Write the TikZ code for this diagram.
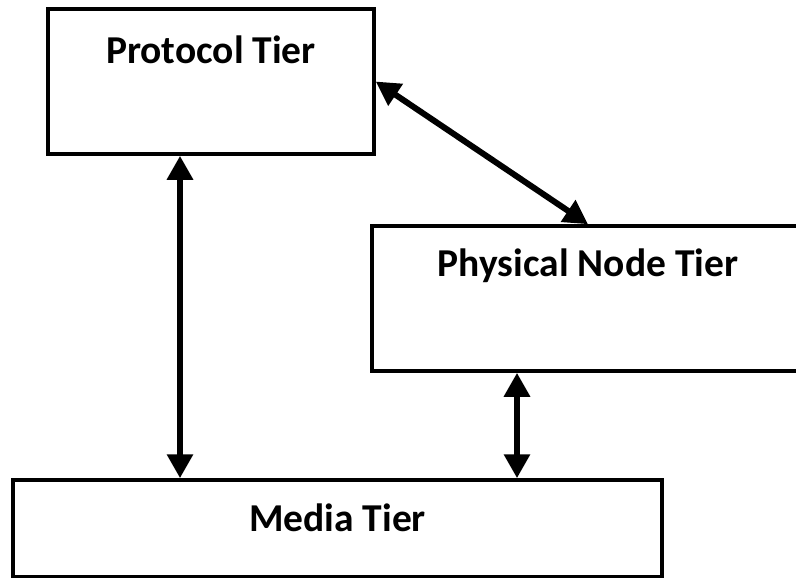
\documentclass[tikz,border=0pt]{standalone}
\usepackage{fontspec}
\setmainfont{Carlito}
\usetikzlibrary{arrows.meta,positioning}

\tikzset{
	tier/.style={draw, line width=3.5pt, minimum width=#1, minimum height=145pt, inner sep=0pt},
	tiername/.style={anchor=base, font=\fontsize{39.5}{44}\selectfont\bfseries},
	link/.style={line width=6pt, {Triangle[length=24pt,width=25pt]}-{Triangle[length=24pt,width=25pt]}}
}

\begin{document}
\begin{tikzpicture}[x=1pt, y=-1pt]
		\useasboundingbox (0,0) rectangle (796,578);
		\clip (0,0) rectangle (796,578);
		\node[tier=326pt] (protocol) at (211,81.5) {};
		\node[tier=432pt] (physical) at (588,298.5) {};
		\node[tier=649pt, minimum height=97pt] (media) at (337.5,528.5) {};
		\node[tiername] (protocol-name) at ([yshift=-56pt]protocol.north) {Protocol Tier};
		\node[tiername] (physical-name) at ([yshift=-52pt]physical.north) {Physical Node Tier};
		\node[tiername] (media-name) at ([yshift=-53pt]media.north) {Media Tier};
		\draw[link] (protocol.east) -- (physical.north);
		\draw[link] ([xshift=-31pt]protocol.south) -- ([xshift=-31pt]protocol.south |- media.north);
		\draw[link] ([xshift=-71pt]physical.south) -- ([xshift=-71pt]physical.south |- media.north);
	\end{tikzpicture}
\end{document}
